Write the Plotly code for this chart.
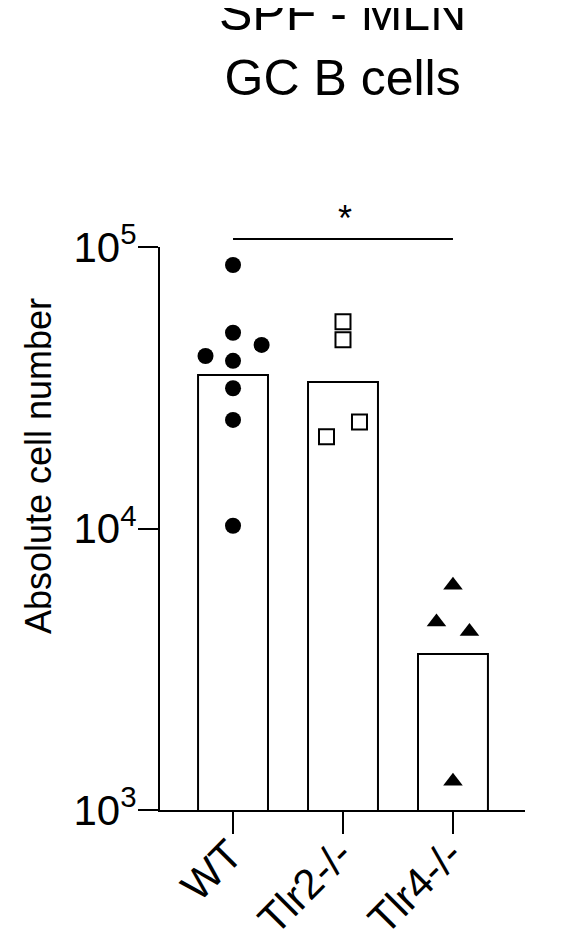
import plotly.graph_objects as go

categories = ["WT", "Tlr2-/-", "Tlr4-/-"]
bar_means = [35100, 33150, 3580]

wt_values = [86300, 49600, 44900, 41000, 39400, 31500, 24300, 10230]
wt_jitter = [0.0, 0.0, 0.26, -0.25, 0.0, 0.0, 0.0, 0.0]
tlr2_values = [54300, 46800, 21200, 23900]
tlr2_jitter = [0.0, 0.0, -0.15, 0.15]
tlr4_values = [6280, 4650, 4310, 1265]
tlr4_jitter = [0.0, -0.15, 0.15, 0.0]

y_tickvals = [1000, 10000, 100000]
y_ticktext = ["10<sup>3</sup>", "10<sup>4</sup>", "10<sup>5</sup>"]

FONT = "Liberation Sans, Arial, sans-serif"
BLACK = "#000000"

fig = go.Figure()

fig.add_trace(go.Bar(
    x=list(range(len(categories))), y=bar_means, width=0.636,
    marker=dict(color="white", line=dict(color=BLACK, width=2)),
    showlegend=False,
))

fig.add_trace(go.Scatter(
    x=[0 + j for j in wt_jitter], y=wt_values, mode="markers",
    marker=dict(symbol="circle", size=16, color=BLACK),
    showlegend=False, cliponaxis=False,
))
fig.add_trace(go.Scatter(
    x=[1 + j for j in tlr2_jitter], y=tlr2_values, mode="markers",
    marker=dict(symbol="square", size=15, color="white", line=dict(color=BLACK, width=2)),
    showlegend=False, cliponaxis=False,
))
fig.add_trace(go.Scatter(
    x=[2 + j for j in tlr4_jitter], y=tlr4_values, mode="markers",
    marker=dict(symbol="triangle-up", size=17, color=BLACK),
    showlegend=False, cliponaxis=False,
))

# significance bracket
fig.add_shape(type="line", xref="x", yref="y domain", x0=0, x1=2, y0=1.0142, y1=1.0142,
              line=dict(color=BLACK, width=2))
fig.add_annotation(xref="x", yref="y domain", x=1.02, y=1.05, text="*", showarrow=False,
                   font=dict(family=FONT, size=36, color=BLACK), xanchor="center", yanchor="middle")

# y-axis title
fig.add_annotation(xref="paper", yref="paper", x=-0.334, y=0.611, text="Absolute cell number",
                   textangle=-90, showarrow=False, xanchor="center", yanchor="middle",
                   font=dict(family=FONT, size=36, color=BLACK))

# chart title
fig.add_annotation(xref="paper", yref="paper", x=0.5, y=1.469, text="SPF - MLN<br>GC B cells",
                   showarrow=False, xanchor="center", yanchor="top",
                   font=dict(family=FONT, size=50, color=BLACK))

# the page body adds an 8px offset, so the figure is sized to fill the rest of the window
fig.update_layout(
    width=557, height=935,
    margin=dict(l=152, r=40, t=239, b=133),
    paper_bgcolor="white", plot_bgcolor="white",
    xaxis=dict(range=[-0.664, 2.655], tickvals=list(range(len(categories))), ticktext=categories,
               tickangle=-45, ticks="outside", ticklen=22, tickwidth=2, tickcolor=BLACK,
               showline=True, linecolor=BLACK, linewidth=2, showgrid=False, zeroline=False,
               automargin=False, ticklabelstandoff=-21, ticklabelshift=-3,
               tickfont=dict(family=FONT, size=42, color=BLACK)),
    yaxis=dict(type="log", range=[3, 5], tickvals=y_tickvals, ticktext=y_ticktext,
               ticks="outside", ticklen=20, tickwidth=2, tickcolor=BLACK,
               showline=True, linecolor=BLACK, linewidth=2, showgrid=False, zeroline=False,
               automargin=False, ticklabelstandoff=-7,
               tickfont=dict(family=FONT, size=42, color=BLACK)),
)

fig.write_html("out.html")
